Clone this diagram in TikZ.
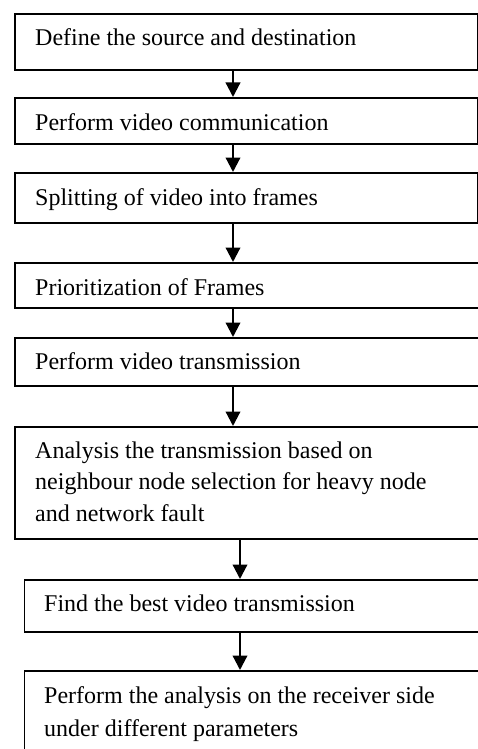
\documentclass[tikz,border=0pt]{standalone}
\usepackage{fontspec}
\setmainfont{Liberation Serif}
\usetikzlibrary{arrows.meta}
\begin{document}
\begin{tikzpicture}[x=1pt,y=-1pt,
  box/.style={draw, line width=1.6pt, inner sep=0pt, anchor=north west},
  lbl/.style={anchor=base west, inner sep=0pt, font=\fontsize{24}{30}\selectfont},
  flow/.style={-{Triangle[width=14.5pt,length=14.5pt]}, line width=2.2pt}]
\useasboundingbox (0,0) rectangle (478,749);
\coordinate (ax) at (233,0);
\coordinate (bx) at (240,0);
\node[box, minimum width=463pt, minimum height=56pt] (b1) at (14,13) {};
\node[box, minimum width=463pt, minimum height=46pt] (b2) at (14,97) {};
\node[box, minimum width=463pt, minimum height=50pt] (b3) at (14,172) {};
\node[box, minimum width=490pt, minimum height=45pt] (b4) at (14,262) {};
\node[box, minimum width=490pt, minimum height=48pt] (b5) at (14,337) {};
\node[box, minimum width=490pt, minimum height=112pt] (b6) at (14,426) {};
\node[box, minimum width=480pt, minimum height=52pt] (b7) at (23.5,579) {};
\node[box, minimum width=480pt, minimum height=130pt] (b8) at (23.5,670) {};
\node[lbl] (t1) at (35,46) {Define the source and destination};
\node[lbl] (t2) at (35,130.5) {Perform video communication};
\node[lbl] (t3) at (35,205.5) {Splitting of video into frames};
\node[lbl] (t4) at (35,295) {Prioritization of Frames};
\node[lbl] (t5) at (35,369) {Perform video transmission};
\node[lbl] (t6a) at (35,458) {Analysis the transmission based on};
\node[lbl] (t6b) at (35,489) {neighbour node selection for heavy node};
\node[lbl] (t6c) at (35,521) {and network fault};
\node[lbl] (t7) at (44,611.5) {Find the best video transmission};
\node[lbl] (t8a) at (44,703) {Perform the analysis on the receiver side};
\node[lbl] (t8b) at (44,736) {under different parameters};
\draw[flow] (ax |- b1.south) -- (ax |- b2.north);
\draw[flow] (ax |- b2.south) -- (ax |- b3.north);
\draw[flow] (ax |- b3.south) -- (ax |- b4.north);
\draw[flow] (ax |- b4.south) -- (ax |- b5.north);
\draw[flow] (ax |- b5.south) -- (ax |- b6.north);
\draw[flow] (bx |- b6.south) -- (bx |- b7.north);
\draw[flow] (bx |- b7.south) -- (bx |- b8.north);
\end{tikzpicture}
\end{document}
